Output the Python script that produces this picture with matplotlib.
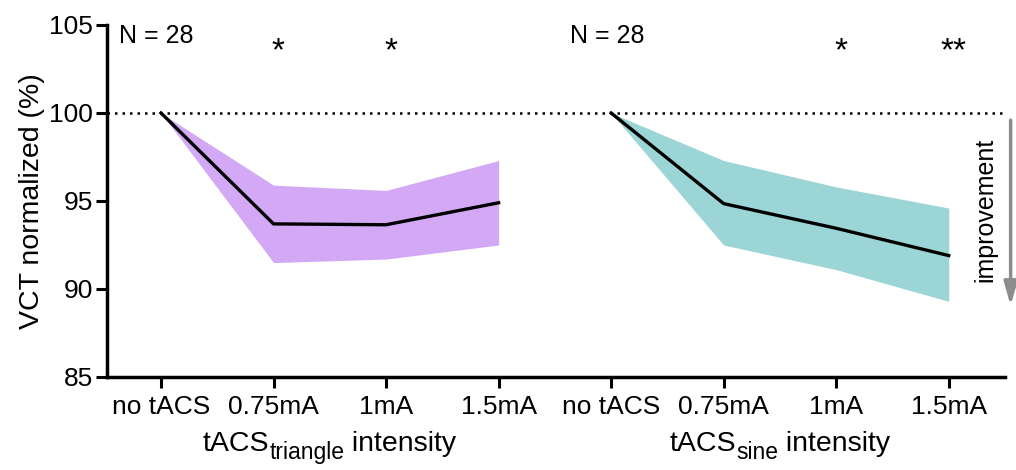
import matplotlib
matplotlib.use("Agg")
import matplotlib.pyplot as plt
from matplotlib.transforms import offset_copy

plt.rcParams['font.family'] = ['Liberation Sans', 'DejaVu Sans']

# data
tick_labels = ["no tACS", "0.75mA", "1mA", "1.5mA"]
tri_mean = [100, 93.7, 93.65, 94.9]
tri_upper = [100, 95.9, 95.6, 97.3]
tri_lower = [100, 91.5, 91.7, 92.5]
sine_mean = [100, 94.85, 93.45, 91.9]
sine_upper = [100, 97.3, 95.8, 94.6]
sine_lower = [100, 92.5, 91.1, 89.3]
tri_stars = ["", "*", "*", ""]
sine_stars = ["", "", "*", "**"]

x_tri = [0, 1, 2, 3]
x_sine = [4, 5, 6, 7]

fig = plt.figure(figsize=(10.16, 4.7), dpi=100)
ax = fig.add_axes([107 / 1016, 93 / 470, 898 / 1016, 352 / 470])

ax.fill_between(x_tri, tri_lower, tri_upper, color="#d3a9f5", linewidth=0)
ax.fill_between(x_sine, sine_lower, sine_upper, color="#9bd5d5", linewidth=0)
ax.plot(x_tri, tri_mean, color="black", lw=2.4)
ax.plot(x_sine, sine_mean, color="black", lw=2.4)

ax.axhline(100, color="black", lw=1.8, ls=(0, (1, 2.0)))

ax.set_xlim(-0.48, 7.5)
ax.set_ylim(85, 105)
ax.set_yticks([85, 90, 95, 100, 105])
ax.set_xticks(x_tri + x_sine)
ax.set_xticklabels(tick_labels + tick_labels)
ax.tick_params(labelsize=19, width=2.2, length=8, pad=5)
ax.tick_params(axis='y', pad=2)

for s in ["top", "right"]:
    ax.spines[s].set_visible(False)
for s in ["left", "bottom"]:
    ax.spines[s].set_linewidth(2.5)

ax.set_ylabel("VCT normalized (%)", fontsize=20.5, labelpad=3)

# significance stars
for xs, stars in [(x_tri, tri_stars), (x_sine, sine_stars)]:
    for xv, st in zip(xs, stars):
        if st:
            ax.text(xv + 0.04, 103.5, st, ha="center", va="center", fontsize=24)
    ax.text(xs[0] - 0.37, 104.35, "N = 28", ha="left", va="center", fontsize=18)

# group axis labels: "tACS" + larger-than-mathtext subscript + " intensity"
renderer = fig.canvas.get_renderer()


def group_label(xc, sub):
    parts = [("tACS", 20.5, 0), (sub, 16.5, -6), (" intensity", 20.5, 0)]
    widths = []
    for txt, fs, _ in parts:
        t = fig.text(0, 0, txt, fontsize=fs)
        widths.append(t.get_window_extent(renderer).width)
        t.remove()
    x0 = -sum(widths) / 2
    for (txt, fs, dy), w in zip(parts, widths):
        tr = offset_copy(ax.transData, fig=fig, x=x0 * 72 / fig.dpi, y=dy, units="points")
        ax.text(xc, 80.8, txt, fontsize=fs, ha="left", va="baseline",
                transform=tr, clip_on=False)
        x0 += w


group_label(1.5, "triangle")
group_label(5.5, "sine")

# improvement arrow
ax.annotate("", xy=(7.55, 88.9), xytext=(7.55, 99.75),
            arrowprops=dict(arrowstyle="-|>,head_width=0.4,head_length=1.4",
                            color="#8c8c8c", lw=2.5), annotation_clip=False)
ax.text(7.33, 94.5, "improvement", rotation=90, ha="center", va="center", fontsize=18)

fig.savefig("out.png", dpi=100)
